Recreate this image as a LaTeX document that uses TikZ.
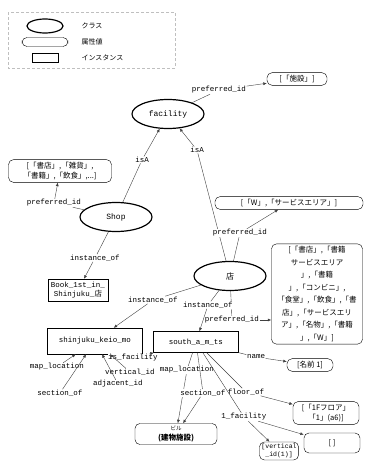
\documentclass[tikz,border=0pt]{standalone}
\usepackage{fontspec}
\setmainfont{Liberation Mono}
\newfontfamily\jp{Noto Sans CJK JP}
\usetikzlibrary{arrows.meta,positioning,shapes.geometric}

\begin{document}
\begin{tikzpicture}[x=1pt,y=-1pt,
  cls/.style={draw, ellipse, very thick, minimum width=72pt, minimum height=29pt, inner sep=0pt, font=\fontsize{8}{9}\selectfont},
  attr/.style={draw, rounded corners=5pt, align=center, inner sep=2.5pt, font=\jp\fontsize{7.5}{10}\selectfont},
  inst/.style={draw, align=center, inner sep=3pt, font=\fontsize{7.5}{9}\selectfont},
  rel/.style={font=\fontsize{7.5}{8}\selectfont, inner sep=0.5pt, fill=white},
  lgd/.style={font=\jp\fontsize{7}{8}\selectfont, anchor=west},
  ln/.style={black!75, thin},
  arr/.style={black!75, thin, -{Latex[length=3.5pt,width=3pt]}}
]
\useasboundingbox (0,0) rectangle (365,463);

% legend
\draw[gray!50, densely dashed] (8,12) rectangle (175,68);
\node[cls, minimum width=36pt, minimum height=14pt] (lgcls) at (45,26) {};
\node[lgd] at (78,26) {クラス};
\node[draw, rounded corners=5pt, minimum width=46pt, minimum height=9pt] (lgattr) at (45,42) {};
\node[lgd] at (78,42) {属性値};
\node[draw, minimum width=26pt, minimum height=9pt] (lginst) at (45,58) {};
\node[lgd] at (78,58) {インスタンス};

% classes
\node[cls] (fac) at (168,114) {facility};
\node[cls] (shop) at (116,217) {Shop};
\node[cls] (ten) at (230,276) {\jp 店};

% attribute values
\node[attr, minimum width=60pt] (facnm) at (297,79) {[「施設」]};
\node[attr, text width=98pt] (shopnm) at (60,171) {[「書店」,「雑貨」,\\「書籍」,「飲食」,...]};
\node[attr, minimum width=148pt] (tennm) at (289,203) {[「W」,「サービスエリア」]};
\node[attr, text width=86pt, font=\jp\fontsize{7.5}{12.5}\selectfont] (tenlist) at (317,294)
  {[「書店」,「書籍\\サービスエリア\\」,「書籍\\」,「コンビニ」,\\「食堂」,「飲食」,「書\\店」,「サービスエリ\\ア」,「名物」,「書籍\\」,「W」]};
\node[attr, minimum width=46pt] (namenm) at (310,365) {[名前 1]};
\node[attr, minimum width=66pt] (floornm) at (326,413) {[「1Fフロア」\\「1」(a6)]};
\node[attr, minimum width=56pt, minimum height=20pt] (emptynm) at (332,443) {[ ]};
\node[attr, font=\fontsize{6.5}{8}\selectfont, inner sep=2pt] (vertnm) at (279,451) {[vertical\\\_id(1)]};
\node[attr, minimum width=82pt] (bldg) at (176,434) {{\fontsize{5.5}{6}\selectfont ビル}\\\textbf{(建物施設)}};

% instances
\node[inst] (book) at (78,290) {Book\_1st\_in\_\\Shinjuku\_{\jp 店}};
\node[inst, minimum width=95pt, minimum height=26pt] (mall) at (95,341) {shinjuku\_keio\_mo};
\node[inst, minimum width=85pt, minimum height=21pt] (south) at (196,342) {south\_a\_m\_ts};

% relations
\node[rel] (pid1) at (219,90) {preferred\_id};
\draw[ln] (fac) -- (pid1);
\draw[arr] (pid1) -- (facnm);

\node[rel] (isa1) at (142,160) {isA};
\draw[ln] (shop) -- (isa1);
\draw[arr] (isa1) -- (fac);

\node[rel] (isa2) at (197,150) {isA};
\draw[ln] (ten) -- (isa2);
\draw[arr] (isa2) -- (fac);

\node[rel] (pid2) at (54,203) {preferred\_id};
\draw[ln] (shop) -- (pid2);
\draw[arr] (pid2) -- (shopnm);

\node[rel] (pid3) at (240,233) {preferred\_id};
\draw[ln] (ten) -- (pid3);
\draw[arr] (pid3) -- (tennm);

\node[rel] (pid4) at (232,320) {preferred\_id};
\draw[ln] (ten) -- (pid4);
\draw[arr] (pid4) -- (tenlist.west |- pid4);

\node[rel] (inst1) at (95,258) {instance\_of};
\draw[ln] (shop) -- (inst1);
\draw[arr] (inst1) -- (book);

\node[rel] (inst2) at (153,300) {instance\_of};
\draw[ln] (ten) -- (inst2);
\draw[arr] (inst2) -- (mall);

\node[rel] (inst3) at (208,305) {instance\_of};
\draw[ln] (ten) -- (inst3);
\draw[arr] (inst3) -- (south);

\node[rel] (isfac) at (133,358) {is\_facility};
\draw[ln] (mall) -- (isfac);
\draw[arr] (isfac) -- (south);

\node[rel] (map1) at (57,367) {map\_location};
\draw[arr] (map1) -- (mall);
\node[rel] (vert) at (130,372) {vertical\_id};
\draw[arr] (vert) -- (mall);
\node[rel] (adj) at (118,384) {adjacent\_id};
\draw[arr] (adj) -- (mall);
\node[rel] (sec1) at (60,393) {section\_of};
\draw[arr] (sec1) -- (mall);

\node[rel] (map2) at (187,370) {map\_location};
\draw[ln] (south) -- (map2);
\draw[arr] (map2) -- (bldg);
\node[rel] (sec2) at (203,393) {section\_of};
\draw[ln] (south) -- (sec2);
\draw[arr] (sec2) -- (bldg);

\node[rel] (name) at (256,357) {name};
\draw[ln] (south) -- (name);
\draw[arr] (name) -- (namenm);

\node[rel] (built) at (246,392) {floor\_of};
\draw[ln] (south) -- (built);
\draw[arr] (built) -- (floornm);

\node[rel] (fac1) at (244,417) {1\_facility};
\draw[ln] (south) -- (fac1);
\draw[arr] (fac1) -- (emptynm);
\draw[arr] (fac1) -- (vertnm);

\end{tikzpicture}
\end{document}
